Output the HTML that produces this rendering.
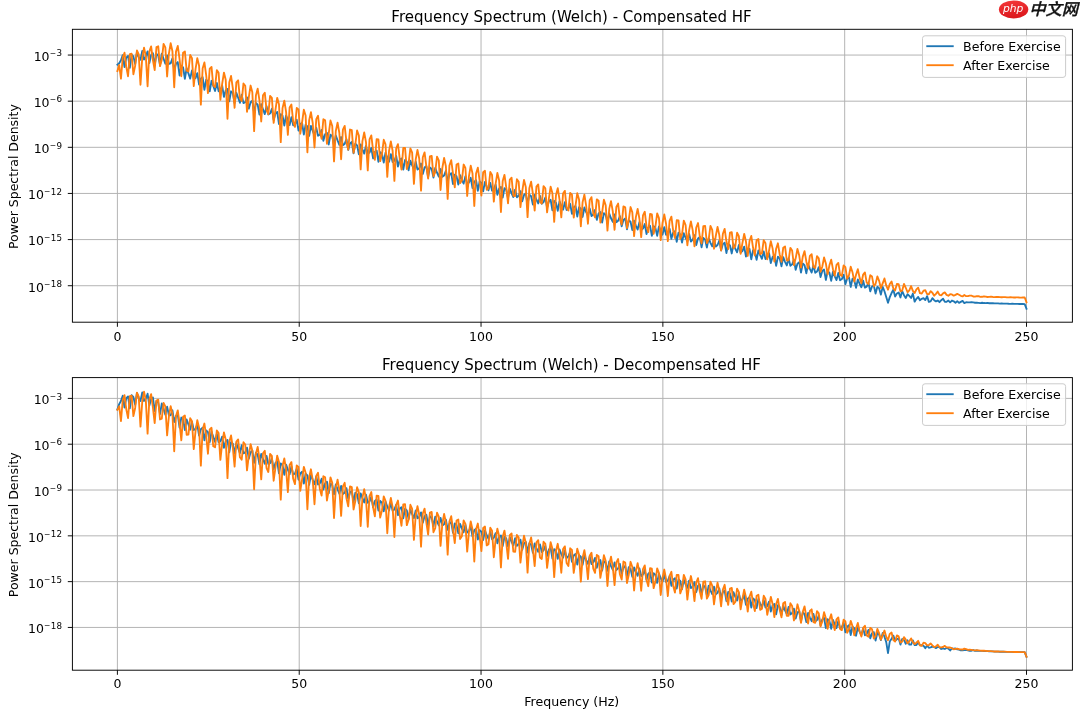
<!DOCTYPE html>
<html lang="en"><head><meta charset="utf-8"><title>Frequency Spectrum (Welch)</title>
<style>html,body{margin:0;padding:0;background:#fff}body{width:1080px;height:718px;overflow:hidden}svg{display:block;will-change:transform}</style>
</head><body>
<svg width="1080" height="718" viewBox="0 0 1080 718" font-family="'DejaVu Sans','Liberation Sans',sans-serif" fill="#000">
<rect width="1080" height="718" fill="#fff"/>
<clipPath id="c0"><rect x="72.4" y="29.3" width="1000.0" height="292.9"/></clipPath>
<path d="M117.40 29.30V322.20 M299.22 29.30V322.20 M481.04 29.30V322.20 M662.86 29.30V322.20 M844.68 29.30V322.20 M1026.50 29.30V322.20 M72.40 55.05H1072.40 M72.40 101.18H1072.40 M72.40 147.32H1072.40 M72.40 193.45H1072.40 M72.40 239.59H1072.40 M72.40 285.72H1072.40" stroke="#b0b0b0" stroke-width="0.95" fill="none"/>
<g clip-path="url(#c0)" fill="none" stroke-width="1.85" stroke-linejoin="round" stroke-linecap="square">
<polyline stroke="#1f77b4" points="117.40,64.74 119.18,63.26 120.95,60.32 122.73,55.08 124.50,67.00 126.28,57.61 128.05,55.87 129.83,67.88 131.60,54.67 133.38,56.36 135.16,64.12 136.93,52.15 138.71,57.30 140.48,59.69 142.26,50.99 144.03,59.60 145.81,56.47 147.58,51.33 149.36,63.04 151.14,54.83 152.91,53.13 154.69,65.66 156.46,53.83 158.24,55.53 160.01,64.90 161.79,53.61 163.57,58.75 165.34,63.73 167.12,55.38 168.89,63.99 170.67,63.37 172.44,58.34 174.22,70.02 175.99,63.70 177.77,62.10 179.55,75.50 181.32,65.75 183.10,67.51 184.87,78.74 186.65,68.23 188.42,73.33 190.20,78.62 191.97,70.47 193.75,78.93 195.53,78.10 197.30,73.18 199.08,84.69 200.85,78.62 202.63,77.04 204.40,89.85 206.18,79.73 207.95,81.42 209.73,91.31 211.51,80.79 213.28,85.86 215.06,90.97 216.83,82.90 218.61,91.30 220.38,90.48 222.16,85.60 223.94,96.93 225.71,90.50 227.49,88.91 229.26,101.42 231.04,91.30 232.81,93.02 234.59,103.10 236.36,92.73 238.14,97.77 239.92,102.78 241.69,94.77 243.47,103.11 245.24,102.28 247.02,97.43 248.79,108.65 250.57,102.29 252.34,100.71 254.12,113.00 255.90,102.94 257.67,104.65 259.45,114.51 261.22,104.23 263.00,109.24 264.77,114.10 266.55,106.16 268.32,114.44 270.10,113.54 271.88,108.72 273.65,119.83 275.43,113.49 277.20,111.92 278.98,124.04 280.75,114.07 282.53,115.77 284.31,125.47 286.08,115.31 287.86,120.29 289.63,125.04 291.41,117.17 293.18,125.38 294.96,124.43 296.73,119.65 298.51,130.64 300.29,124.30 302.06,122.75 303.84,134.67 305.61,124.78 307.39,126.47 309.16,135.96 310.94,125.88 312.71,130.83 314.49,135.40 316.27,127.58 318.04,135.73 319.82,134.63 321.59,129.88 323.37,140.73 325.14,134.32 326.92,132.77 328.69,144.48 330.47,134.61 332.25,136.29 334.02,145.53 335.80,135.52 337.57,140.43 339.35,144.81 341.12,137.04 342.90,145.12 344.68,143.91 346.45,139.17 348.23,149.90 350.00,143.47 351.78,141.93 353.55,153.44 355.33,143.64 357.10,145.30 358.88,154.36 360.66,144.42 362.43,149.31 364.21,153.54 365.98,145.82 367.76,153.84 369.53,152.55 371.31,147.84 373.08,158.45 374.86,152.01 376.64,150.48 378.41,161.82 380.19,152.08 381.96,153.74 383.74,162.62 385.51,152.77 387.29,157.62 389.06,161.73 390.84,154.07 392.62,162.02 394.39,160.66 396.17,155.98 397.94,166.48 399.72,160.03 401.49,158.50 403.27,169.67 405.04,159.99 406.82,161.64 408.60,170.35 410.37,160.57 412.15,165.39 413.92,169.37 415.70,161.76 417.47,169.65 419.25,168.22 421.03,163.57 422.80,173.95 424.58,167.52 426.35,166.00 428.13,177.01 429.90,167.41 431.68,169.05 433.45,177.61 435.23,167.93 437.01,172.72 438.78,176.61 440.56,169.06 442.33,176.90 444.11,175.45 445.88,170.82 447.66,181.11 449.43,174.72 451.21,173.21 452.99,184.10 454.76,174.60 456.54,176.23 458.31,184.67 460.09,175.07 461.86,179.84 463.64,183.65 465.41,176.15 467.19,183.93 468.97,182.43 470.74,177.83 472.52,188.01 474.29,181.63 476.07,180.12 477.84,190.86 479.62,181.42 481.40,183.04 483.17,191.38 484.95,181.86 486.72,186.61 488.50,190.39 490.27,182.93 492.05,190.68 493.82,189.19 495.60,184.61 497.38,194.75 499.15,188.40 500.93,186.91 502.70,197.60 504.48,188.19 506.25,189.81 508.03,198.09 509.80,188.58 511.58,193.32 513.36,197.02 515.13,189.57 516.91,197.30 518.68,195.76 520.46,191.19 522.23,201.29 524.01,194.92 525.78,193.42 527.56,204.07 529.34,194.66 531.11,196.28 532.89,204.52 534.66,195.02 536.44,199.75 538.21,203.43 539.99,195.99 541.77,203.71 543.54,202.15 545.32,197.58 547.09,207.66 548.87,201.28 550.64,199.78 552.42,210.40 554.19,200.99 555.97,202.61 557.75,210.80 559.52,201.32 561.30,206.04 563.07,209.69 564.85,202.26 566.62,209.96 568.40,208.38 570.17,203.82 571.95,213.88 573.73,207.49 575.50,205.99 577.28,216.57 579.05,207.18 580.83,208.79 582.60,216.94 584.38,207.47 586.15,212.18 587.93,215.79 589.71,208.37 591.48,216.05 593.26,214.45 595.03,209.89 596.81,219.92 598.58,213.53 600.36,212.03 602.13,222.58 603.91,213.20 605.69,214.82 607.46,222.97 609.24,213.52 611.01,218.24 612.79,221.91 614.56,214.51 616.34,222.20 618.12,220.74 619.89,216.19 621.67,226.26 623.44,220.06 625.22,218.58 626.99,229.25 628.77,220.07 630.54,221.70 632.32,230.10 634.10,220.78 635.87,225.51 637.65,229.51 639.42,222.17 641.20,229.88 642.97,228.59 644.75,224.05 646.52,234.01 648.30,227.33 650.08,225.80 651.85,235.94 653.63,226.28 655.40,227.86 657.18,235.78 658.95,226.32 660.73,231.02 662.50,234.59 664.28,227.21 666.06,234.87 667.83,233.32 669.61,228.78 671.38,238.79 673.16,232.60 674.93,231.13 676.71,241.82 678.49,232.77 680.26,234.40 682.04,242.63 683.81,233.25 685.59,237.94 687.36,241.31 689.14,233.91 690.91,241.51 692.69,239.67 694.47,235.12 696.24,245.02 698.02,238.50 699.79,237.00 701.57,247.36 703.34,237.99 705.12,239.59 706.89,247.57 708.67,238.16 710.45,242.85 712.22,246.39 714.00,239.03 715.77,246.65 717.55,245.02 719.32,240.48 721.10,250.42 722.87,244.09 724.65,242.61 726.43,253.04 728.20,243.78 729.98,245.38 731.75,253.45 733.53,244.09 735.30,248.78 737.08,252.38 738.86,245.04 740.63,252.67 742.41,251.14 744.18,246.62 745.96,256.56 747.73,250.31 749.51,248.83 751.28,259.28 753.06,250.08 754.84,251.69 756.61,259.79 758.39,250.47 760.16,255.16 761.94,258.81 763.71,251.49 765.49,259.12 767.26,257.65 769.04,253.14 770.82,263.08 772.59,256.89 774.37,255.42 776.14,265.86 777.92,256.71 779.69,258.32 781.47,266.41 783.24,257.13 785.02,261.81 786.80,265.47 788.57,258.17 790.35,265.78 792.12,264.35 793.90,259.85 795.67,269.77 797.45,263.65 799.23,262.18 801.00,272.63 802.78,263.55 804.55,265.17 806.33,273.31 808.10,264.10 809.88,268.77 811.65,272.54 813.43,265.28 815.21,272.88 816.98,271.57 818.76,267.11 820.53,276.98 822.31,271.03 824.08,269.58 825.86,279.95 827.63,271.08 829.41,272.68 831.19,280.78 832.96,271.77 834.74,276.39 836.51,280.06 838.29,272.95 840.06,280.36 841.84,279.11 843.61,274.75 845.39,284.20 847.17,278.59 848.94,277.19 850.72,286.95 852.49,278.68 854.27,280.23 856.04,287.74 857.82,279.36 859.59,283.77 861.37,287.25 863.15,280.64 864.92,287.67 866.70,286.63 868.47,282.71 870.25,291.43 872.02,286.47 873.80,285.50 875.58,293.61 877.35,286.84 879.13,288.17 880.90,294.64 882.68,286.85 884.45,291.25 886.23,297.08 888.00,302.78 889.78,297.12 891.56,293.05 893.33,289.81 895.11,296.50 896.88,293.45 898.66,292.43 900.43,297.46 902.21,291.11 903.98,295.20 905.76,298.06 907.54,294.18 909.31,295.83 911.09,298.01 912.86,293.58 914.64,301.68 916.41,298.85 918.19,297.01 919.96,300.18 921.74,298.83 923.52,298.07 925.29,300.07 927.07,296.10 928.84,301.89 930.62,301.38 932.39,298.17 934.17,300.16 935.95,301.41 937.72,300.55 939.50,302.18 941.27,300.19 943.05,298.69 944.82,301.71 946.60,301.85 948.37,300.55 950.15,302.39 951.93,300.55 953.70,301.29 955.48,302.82 957.25,301.13 959.03,302.85 960.80,301.85 962.58,300.89 964.35,303.12 966.13,302.21 967.91,302.43 969.68,302.36 971.46,302.18 973.23,302.45 975.01,302.74 976.78,302.67 978.56,302.82 980.33,303.14 982.11,302.74 983.89,303.04 985.66,303.19 987.44,302.93 989.21,303.27 990.99,303.27 992.76,303.14 994.54,303.44 996.32,303.37 998.09,303.35 999.87,303.58 1001.64,303.47 1003.42,303.55 1005.19,303.69 1006.97,303.60 1008.74,303.72 1010.52,303.80 1012.30,303.73 1014.07,303.87 1015.85,303.90 1017.62,303.88 1019.40,304.00 1021.17,304.00 1022.95,304.02 1024.72,304.12 1026.50,308.74"/>
<polyline stroke="#ff7f0e" points="117.40,71.04 119.18,65.05 120.95,78.73 122.73,57.58 124.50,52.73 126.28,66.92 128.05,76.28 129.83,54.11 131.60,53.66 133.38,74.21 135.16,65.87 136.93,50.50 138.71,54.43 140.48,84.71 142.26,57.67 144.03,47.68 145.81,56.21 147.58,86.24 149.36,51.66 151.14,46.39 152.91,60.05 154.69,70.12 156.46,47.16 158.24,46.31 160.01,66.19 161.79,59.80 163.57,43.87 165.34,47.40 167.12,76.50 168.89,53.64 170.67,43.19 172.44,51.28 174.22,87.32 175.99,51.62 177.77,45.93 179.55,59.09 181.32,76.25 183.10,52.65 184.87,51.39 186.65,70.69 188.42,71.47 190.20,55.04 191.97,58.15 193.75,86.18 195.53,69.03 197.30,58.11 199.08,65.76 200.85,104.67 202.63,68.58 204.40,62.47 206.18,75.12 207.95,93.07 209.73,68.58 211.51,66.92 213.28,85.57 215.06,87.10 216.83,70.08 218.61,72.78 220.38,99.78 222.16,83.95 223.94,72.56 225.71,79.77 227.49,118.79 229.26,82.52 231.04,75.97 232.81,88.13 234.59,107.80 236.36,82.42 238.14,80.35 239.92,98.37 241.69,101.08 243.47,83.46 245.24,85.75 247.02,111.77 248.79,97.42 250.57,85.54 252.34,92.31 254.12,131.13 255.90,95.59 257.67,88.61 259.45,100.28 261.22,121.51 263.00,95.18 264.77,92.70 266.55,110.11 268.32,114.18 270.10,95.96 271.88,97.84 273.65,122.94 275.43,110.19 277.20,97.81 278.98,104.16 280.75,142.17 282.53,108.10 284.31,100.69 286.08,111.87 287.86,134.82 289.63,107.47 291.41,104.58 293.18,121.39 294.96,126.88 296.73,108.03 298.51,109.50 300.29,133.73 302.06,122.51 303.84,109.64 305.61,115.56 307.39,152.33 309.16,120.09 310.94,112.24 312.71,122.94 314.49,147.55 316.27,119.10 318.04,115.79 319.82,132.03 321.59,138.78 323.37,119.28 325.14,120.35 326.92,143.75 328.69,133.89 330.47,120.51 332.25,126.00 334.02,161.36 335.80,131.03 337.57,122.73 339.35,132.97 341.12,159.28 342.90,129.66 344.68,125.94 346.45,141.61 348.23,149.68 350.00,129.51 351.78,130.17 353.55,152.79 355.33,144.35 357.10,130.45 358.88,135.52 360.66,169.44 362.43,141.15 364.21,132.40 365.98,142.17 367.76,170.35 369.53,139.48 371.31,135.35 373.08,150.47 374.86,159.92 376.64,139.07 378.41,139.32 380.19,161.17 381.96,154.18 383.74,139.75 385.51,144.40 387.29,176.92 389.06,150.65 390.84,141.45 392.62,150.77 394.39,180.89 396.17,148.70 397.94,144.15 399.72,158.73 401.49,169.59 403.27,148.01 405.04,147.86 406.82,168.98 408.60,163.39 410.37,148.43 412.15,152.67 413.92,183.86 415.70,159.54 417.47,149.88 419.25,158.74 421.03,190.61 422.80,157.31 424.58,152.34 426.35,166.38 428.13,178.65 429.90,156.39 431.68,155.83 433.45,176.20 435.23,172.09 437.01,156.61 438.78,160.43 440.56,189.97 442.33,168.00 444.11,157.89 445.88,166.29 447.66,198.84 449.43,165.58 451.21,160.20 452.99,173.70 454.76,187.36 456.54,164.50 458.31,163.54 460.09,183.17 461.86,180.54 463.64,164.55 465.41,167.95 467.19,195.99 468.97,176.18 470.74,165.62 472.52,173.57 474.29,205.95 476.07,173.50 477.84,167.71 479.62,180.67 481.40,195.59 483.17,172.19 484.95,170.82 486.72,189.72 488.50,188.52 490.27,172.03 492.05,175.02 493.82,201.68 495.60,183.94 497.38,172.93 499.15,180.43 500.93,211.96 502.70,181.05 504.48,174.84 506.25,187.28 508.03,203.34 509.80,179.53 511.58,177.75 513.36,195.94 515.13,196.13 516.91,179.17 518.68,181.74 520.46,207.10 522.23,191.33 524.01,179.88 525.78,186.93 527.56,217.12 529.34,188.25 531.11,181.62 532.89,193.54 534.66,210.60 536.44,186.57 538.21,184.39 539.99,201.89 541.77,203.47 543.54,186.07 545.32,188.24 547.09,212.36 548.87,198.53 550.64,186.65 552.42,193.26 554.19,221.85 555.97,195.29 557.75,188.25 559.52,199.64 561.30,217.44 563.07,193.45 564.85,190.87 566.62,207.67 568.40,210.57 570.17,192.81 571.95,194.56 573.73,217.51 575.50,205.54 577.28,193.25 579.05,199.41 580.83,226.31 582.60,202.15 584.38,194.70 586.15,205.58 587.93,223.78 589.71,200.15 591.48,197.17 593.26,213.28 595.03,217.39 596.81,199.35 598.58,200.70 600.36,222.50 602.13,212.34 603.91,199.67 605.69,205.39 607.46,230.62 609.24,208.91 611.01,201.07 612.79,211.43 614.56,229.80 616.34,206.96 618.12,203.59 619.89,219.02 621.67,224.51 623.44,206.37 625.22,207.32 626.99,228.05 628.77,220.04 630.54,207.05 632.32,212.33 634.10,236.12 635.87,217.12 637.65,208.91 639.42,218.76 641.20,237.11 642.97,215.47 644.75,211.72 646.52,226.43 648.30,232.11 650.08,213.86 651.85,214.39 653.63,233.82 655.40,226.63 657.18,213.34 658.95,218.18 660.73,240.08 662.50,223.00 664.28,214.44 666.06,223.75 667.83,241.12 669.61,220.82 671.38,216.69 673.16,230.72 674.93,237.97 676.71,220.23 678.49,220.37 680.26,238.95 682.04,234.07 683.81,220.62 685.59,225.02 687.36,245.29 689.14,230.20 690.91,221.32 692.69,230.09 694.47,246.34 696.24,227.49 698.02,223.00 699.79,236.29 701.57,243.45 703.34,226.08 705.12,225.83 706.89,243.17 708.67,239.41 710.45,225.90 712.22,229.86 714.00,248.72 715.77,236.00 717.55,226.87 719.32,235.13 721.10,250.60 722.87,233.76 724.65,228.94 726.43,241.53 728.20,249.19 729.98,232.70 731.75,232.08 733.53,248.38 735.30,246.14 737.08,232.75 738.86,236.27 740.63,253.74 742.41,243.14 744.18,233.83 745.96,241.55 747.73,255.96 749.51,241.06 751.28,235.94 753.06,247.79 754.84,255.47 756.61,240.06 758.39,239.07 760.16,254.28 761.94,253.22 763.71,240.13 765.49,243.23 767.26,259.28 769.04,250.63 770.82,241.23 772.59,248.40 774.37,261.65 776.14,248.69 777.92,243.32 779.69,254.41 781.47,261.86 783.24,247.74 785.02,246.40 786.80,260.50 788.57,260.40 790.35,247.83 792.12,250.49 793.90,265.17 795.67,258.31 797.45,248.95 799.23,255.56 801.00,267.67 802.78,256.65 804.55,251.09 806.33,261.41 808.10,268.51 809.88,255.89 811.65,254.24 813.43,267.25 815.21,267.94 816.98,256.14 818.76,258.38 820.53,271.73 822.31,266.55 824.08,257.40 825.86,263.44 827.63,274.36 829.41,265.31 831.19,259.66 832.96,269.15 834.74,275.71 836.51,264.83 838.29,262.92 840.06,274.70 841.84,275.95 843.61,265.32 845.39,267.14 847.17,278.91 848.94,275.37 850.72,266.78 852.49,272.19 854.27,281.59 856.04,274.71 857.82,269.19 859.59,277.65 861.37,283.26 863.15,274.55 864.92,272.43 866.70,282.60 868.47,284.14 870.25,275.22 872.02,276.59 873.80,286.20 875.58,283.86 877.35,276.34 879.13,280.88 880.90,288.10 882.68,283.40 884.45,278.45 886.23,285.48 888.00,289.67 889.78,284.05 891.56,281.46 893.33,288.53 895.11,290.50 896.88,284.03 898.66,284.23 900.43,291.40 902.21,290.60 903.98,283.92 905.76,287.77 907.54,292.27 909.31,290.45 911.09,286.01 912.86,290.93 914.64,293.01 916.41,289.34 918.19,287.69 919.96,293.12 921.74,293.48 923.52,290.74 925.29,290.23 927.07,294.02 928.84,294.22 930.62,291.14 932.39,292.75 934.17,295.67 935.95,293.80 937.72,291.57 939.50,294.88 941.27,295.39 943.05,293.39 944.82,292.41 946.60,294.83 948.37,295.75 950.15,294.26 951.93,294.42 953.70,295.65 955.48,294.87 957.25,293.90 959.03,294.74 960.80,295.79 962.58,296.40 964.35,295.03 966.13,296.16 967.91,296.19 969.68,295.67 971.46,295.70 973.23,296.51 975.01,296.59 976.78,296.17 978.56,296.21 980.33,296.81 982.11,296.78 983.89,296.33 985.66,296.64 987.44,296.97 989.21,296.90 990.99,296.59 992.76,296.96 994.54,297.12 996.32,297.00 998.09,296.86 999.87,297.18 1001.64,297.25 1003.42,297.10 1005.19,297.12 1006.97,297.34 1008.74,297.36 1010.52,297.23 1012.30,297.33 1014.07,297.46 1015.85,297.45 1017.62,297.37 1019.40,297.50 1021.17,297.56 1022.95,297.54 1024.72,297.51 1026.50,302.25"/>
</g>
<path d="M117.40 322.20v4.60 M299.22 322.20v4.60 M481.04 322.20v4.60 M662.86 322.20v4.60 M844.68 322.20v4.60 M1026.50 322.20v4.60 M72.40 55.05h-4.60 M72.40 101.18h-4.60 M72.40 147.32h-4.60 M72.40 193.45h-4.60 M72.40 239.59h-4.60 M72.40 285.72h-4.60" stroke="#000" stroke-width="0.95" fill="none"/>
<rect x="72.40" y="29.30" width="1000.00" height="292.90" fill="none" stroke="#000" stroke-width="0.95"/>
<text x="117.40" y="340.80" font-size="12.5" text-anchor="middle">0</text>
<text x="299.22" y="340.80" font-size="12.5" text-anchor="middle">50</text>
<text x="481.04" y="340.80" font-size="12.5" text-anchor="middle">100</text>
<text x="662.86" y="340.80" font-size="12.5" text-anchor="middle">150</text>
<text x="844.68" y="340.80" font-size="12.5" text-anchor="middle">200</text>
<text x="1026.50" y="340.80" font-size="12.5" text-anchor="middle">250</text>
<text x="62.00" y="60.95" font-size="12.5" text-anchor="end">10<tspan font-size="7.6" dy="-5.1" dx="0.1">−</tspan><tspan font-size="8.75" dy="0.45" dx="0.4">3</tspan></text>
<text x="62.00" y="107.08" font-size="12.5" text-anchor="end">10<tspan font-size="7.6" dy="-5.1" dx="0.1">−</tspan><tspan font-size="8.75" dy="0.45" dx="0.4">6</tspan></text>
<text x="62.00" y="153.22" font-size="12.5" text-anchor="end">10<tspan font-size="7.6" dy="-5.1" dx="0.1">−</tspan><tspan font-size="8.75" dy="0.45" dx="0.4">9</tspan></text>
<text x="62.00" y="199.35" font-size="12.5" text-anchor="end">10<tspan font-size="7.6" dy="-5.1" dx="0.1">−</tspan><tspan font-size="8.75" dy="0.45" dx="0.4">12</tspan></text>
<text x="62.00" y="245.49" font-size="12.5" text-anchor="end">10<tspan font-size="7.6" dy="-5.1" dx="0.1">−</tspan><tspan font-size="8.75" dy="0.45" dx="0.4">15</tspan></text>
<text x="62.00" y="291.62" font-size="12.5" text-anchor="end">10<tspan font-size="7.6" dy="-5.1" dx="0.1">−</tspan><tspan font-size="8.75" dy="0.45" dx="0.4">18</tspan></text>
<text x="571.50" y="21.90" font-size="15" text-anchor="middle">Frequency Spectrum (Welch) - Compensated HF</text>
<text transform="translate(18.20 176.55) rotate(-90)" font-size="12.5" text-anchor="middle">Power Spectral Density</text>
<rect x="922.50" y="35.80" width="143.10" height="41.60" rx="2.6" ry="2.6" fill="#fff" fill-opacity="0.8" stroke="#ccc" stroke-width="1"/>
<path d="M926.30 46.20h27.4" stroke="#1f77b4" stroke-width="1.85" fill="none"/>
<text x="963.10" y="50.70" font-size="12.6">Before Exercise</text>
<path d="M926.30 65.20h27.4" stroke="#ff7f0e" stroke-width="1.85" fill="none"/>
<text x="963.10" y="69.70" font-size="12.6">After Exercise</text>
<clipPath id="c1"><rect x="72.4" y="377.6" width="1000.0" height="292.6"/></clipPath>
<path d="M117.40 377.60V670.20 M299.22 377.60V670.20 M481.04 377.60V670.20 M662.86 377.60V670.20 M844.68 377.60V670.20 M1026.50 377.60V670.20 M72.40 398.40H1072.40 M72.40 444.21H1072.40 M72.40 490.02H1072.40 M72.40 535.83H1072.40 M72.40 581.64H1072.40 M72.40 627.45H1072.40" stroke="#b0b0b0" stroke-width="0.95" fill="none"/>
<g clip-path="url(#c1)" fill="none" stroke-width="1.85" stroke-linejoin="round" stroke-linecap="square">
<polyline stroke="#1f77b4" points="117.40,409.39 119.18,404.16 120.95,400.94 122.73,395.74 124.50,407.54 126.28,398.12 128.05,396.39 129.83,408.36 131.60,395.28 133.38,396.96 135.16,404.87 136.93,393.00 138.71,398.12 140.48,400.95 142.26,392.35 144.03,400.94 145.81,398.82 147.58,393.73 149.36,405.60 151.14,399.02 152.91,397.39 154.69,411.04 156.46,400.87 158.24,402.62 160.01,414.17 161.79,403.50 163.57,408.65 165.34,414.84 167.12,406.62 168.89,415.19 170.67,415.23 172.44,410.28 174.22,421.97 175.99,416.02 177.77,414.42 179.55,427.55 181.32,417.55 183.10,419.28 184.87,429.98 186.65,419.49 188.42,424.55 190.20,429.74 191.97,421.64 193.75,430.04 195.53,429.15 197.30,424.26 199.08,435.64 200.85,429.30 202.63,427.72 204.40,440.40 206.18,430.35 207.95,432.06 209.73,442.14 211.51,431.73 213.28,436.76 215.06,441.86 216.83,433.84 218.61,442.19 220.38,441.43 222.16,436.58 223.94,447.84 225.71,441.51 227.49,439.94 229.26,452.24 231.04,442.06 232.81,443.76 234.59,453.60 236.36,443.26 238.14,448.26 239.92,453.06 241.69,445.10 243.47,453.37 245.24,452.40 247.02,447.58 248.79,458.70 250.57,452.27 252.34,450.70 254.12,462.85 255.90,452.80 257.67,454.49 259.45,464.21 261.22,453.99 263.00,458.97 264.77,463.73 266.55,455.84 268.32,464.05 270.10,463.10 271.88,458.31 273.65,469.33 275.43,462.98 277.20,461.43 278.98,473.43 280.75,463.50 282.53,465.19 284.31,474.77 286.08,464.66 287.86,469.60 289.63,474.26 291.41,466.43 293.18,474.58 294.96,473.57 296.73,468.81 298.51,479.71 300.29,473.36 302.06,471.82 303.84,483.63 305.61,473.77 307.39,475.45 309.16,484.83 310.94,474.81 312.71,479.72 314.49,484.23 316.27,476.47 318.04,484.56 319.82,483.47 321.59,478.74 323.37,489.52 325.14,483.17 326.92,481.64 328.69,493.27 330.47,483.49 332.25,485.16 334.02,494.36 335.80,484.42 337.57,489.31 339.35,493.68 341.12,485.97 342.90,493.99 344.68,492.81 346.45,488.11 348.23,498.77 350.00,492.40 351.78,490.87 353.55,502.31 355.33,492.58 357.10,494.24 358.88,503.24 360.66,493.37 362.43,498.23 364.21,502.43 365.98,494.77 367.76,502.74 369.53,501.45 371.31,496.78 373.08,507.31 374.86,500.91 376.64,499.39 378.41,510.64 380.19,500.96 381.96,502.61 383.74,511.41 385.51,501.63 387.29,506.45 389.06,510.51 390.84,502.90 392.62,510.80 394.39,509.44 396.17,504.79 397.94,515.21 399.72,508.81 401.49,507.29 403.27,518.39 405.04,508.78 406.82,510.42 408.60,519.06 410.37,509.36 412.15,514.15 413.92,518.11 415.70,510.55 417.47,518.39 419.25,516.97 421.03,512.36 422.80,522.67 424.58,516.28 426.35,514.77 428.13,525.71 429.90,516.18 431.68,517.81 433.45,526.31 435.23,516.69 437.01,521.46 438.78,525.32 440.56,517.83 442.33,525.61 444.11,524.17 445.88,519.58 447.66,529.80 449.43,523.46 451.21,521.95 452.99,532.77 454.76,523.33 456.54,524.95 458.31,533.34 460.09,523.80 461.86,528.54 463.64,532.32 465.41,524.87 467.19,532.59 468.97,531.10 470.74,526.53 472.52,536.64 474.29,530.30 476.07,528.81 477.84,539.47 479.62,530.10 481.40,531.71 483.17,539.97 484.95,530.51 486.72,535.22 488.50,538.94 490.27,531.54 492.05,539.23 493.82,537.74 495.60,533.19 497.38,543.26 499.15,536.95 500.93,535.46 502.70,546.07 504.48,536.73 506.25,538.34 508.03,546.56 509.80,537.12 511.58,541.82 513.36,545.51 515.13,538.11 516.91,545.78 518.68,544.25 520.46,539.70 522.23,549.74 524.01,543.40 525.78,541.91 527.56,552.47 529.34,543.12 531.11,544.73 532.89,552.88 534.66,543.44 536.44,548.13 538.21,551.75 539.99,544.36 541.77,552.01 543.54,550.42 545.32,545.88 547.09,555.88 548.87,549.50 550.64,548.01 552.42,558.52 554.19,549.15 555.97,550.76 557.75,558.86 559.52,549.43 561.30,554.11 563.07,557.71 564.85,550.32 566.62,557.97 568.40,556.39 570.17,551.85 571.95,561.84 573.73,555.49 575.50,554.00 577.28,564.50 579.05,555.17 580.83,556.78 582.60,564.87 584.38,555.47 586.15,560.15 587.93,563.74 589.71,556.37 591.48,564.00 593.26,562.41 595.03,557.88 596.81,567.85 598.58,561.50 600.36,560.01 602.13,570.48 603.91,561.17 605.69,562.77 607.46,570.84 609.24,561.45 611.01,566.13 612.79,569.72 614.56,562.36 616.34,569.98 618.12,568.42 619.89,563.89 621.67,573.84 623.44,567.53 625.22,566.05 626.99,576.50 628.77,567.22 630.54,568.82 632.32,576.89 634.10,567.52 635.87,572.20 637.65,575.78 639.42,568.44 641.20,576.05 642.97,574.49 644.75,569.98 646.52,579.91 648.30,573.61 650.08,572.12 651.85,582.55 653.63,573.29 655.40,574.89 657.18,582.93 658.95,573.58 660.73,578.25 662.50,581.82 664.28,574.49 666.06,582.09 667.83,580.53 669.61,576.02 671.38,585.93 673.16,579.65 674.93,578.17 676.71,588.58 678.49,579.34 680.26,580.94 682.04,588.98 683.81,579.65 685.59,584.31 687.36,587.89 689.14,580.57 690.91,588.16 692.69,586.61 694.47,582.10 696.24,592.00 698.02,585.74 699.79,584.26 701.57,594.66 703.34,585.45 705.12,587.05 706.89,595.09 708.67,585.79 710.45,590.45 712.22,594.06 714.00,586.76 715.77,594.34 717.55,592.85 719.32,588.36 721.10,598.25 722.87,592.06 724.65,590.59 726.43,601.00 728.20,591.85 729.98,593.45 731.75,601.52 733.53,592.25 735.30,596.91 737.08,600.55 738.86,593.26 740.63,600.84 742.41,599.37 744.18,594.89 745.96,604.77 747.73,598.61 749.51,597.14 751.28,607.54 753.06,598.43 754.84,600.03 756.61,608.10 758.39,598.87 760.16,603.53 761.94,607.20 763.71,599.94 765.49,607.51 767.26,606.10 769.04,601.63 770.82,611.50 772.59,605.41 774.37,603.94 776.14,614.34 777.92,605.29 779.69,606.89 781.47,614.98 783.24,605.79 785.02,610.44 786.80,614.14 788.57,606.90 790.35,614.47 792.12,613.10 793.90,608.64 795.67,618.49 797.45,612.45 799.23,611.00 801.00,621.36 802.78,612.39 804.55,613.98 806.33,622.05 808.10,612.94 809.88,617.56 811.65,621.17 813.43,613.97 815.21,621.47 816.98,620.07 818.76,615.63 820.53,625.37 822.31,619.38 824.08,617.93 825.86,628.13 827.63,619.28 829.41,620.87 831.19,628.79 832.96,619.83 834.74,624.41 836.51,628.06 838.29,621.01 840.06,628.40 841.84,627.16 843.61,622.82 845.39,632.31 847.17,626.66 848.94,625.25 850.72,635.03 852.49,626.69 854.27,628.23 856.04,635.71 857.82,627.27 859.59,631.66 861.37,635.02 863.15,628.37 864.92,635.29 866.70,634.05 868.47,629.88 870.25,638.42 872.02,633.29 873.80,632.12 875.58,640.51 877.35,633.02 879.13,634.65 880.90,640.09 882.68,632.90 884.45,636.71 886.23,642.13 888.00,653.02 889.78,641.41 891.56,638.78 893.33,635.67 895.11,640.85 896.88,639.26 898.66,638.17 900.43,644.61 902.21,638.98 903.98,639.97 905.76,643.78 907.54,640.28 909.31,644.53 911.09,644.56 912.86,640.40 914.64,645.12 916.41,645.00 918.19,642.29 919.96,645.41 921.74,645.09 923.52,645.76 925.29,648.15 927.07,645.55 928.84,647.72 930.62,647.38 932.39,646.70 934.17,647.01 935.95,648.13 937.72,647.07 939.50,647.05 941.27,649.01 943.05,648.28 944.82,649.01 946.60,647.96 948.37,648.52 950.15,650.50 951.93,648.40 953.70,648.78 955.48,648.49 957.25,649.38 959.03,649.66 960.80,650.40 962.58,650.37 964.35,650.18 966.13,649.87 967.91,650.37 969.68,650.75 971.46,650.73 973.23,650.04 975.01,650.88 976.78,650.49 978.56,650.80 980.33,650.94 982.11,650.80 983.89,651.01 985.66,651.17 987.44,651.10 989.21,651.35 990.99,651.42 992.76,651.43 994.54,651.63 996.32,651.61 998.09,651.62 999.87,651.74 1001.64,651.71 1003.42,651.76 1005.19,651.84 1006.97,651.82 1008.74,651.89 1010.52,651.94 1012.30,651.93 1014.07,652.01 1015.85,652.04 1017.62,652.05 1019.40,652.11 1021.17,652.13 1022.95,652.16 1024.72,652.18 1026.50,656.76"/>
<polyline stroke="#ff7f0e" points="117.40,409.85 119.18,406.34 120.95,421.15 122.73,400.06 124.50,395.24 126.28,409.33 128.05,418.17 129.83,396.15 131.60,395.71 133.38,416.11 135.16,407.93 136.93,392.66 138.71,396.57 140.48,426.65 142.26,401.56 144.03,391.65 145.81,400.12 147.58,433.67 149.36,399.40 151.14,394.17 152.91,407.75 154.69,423.12 156.46,400.48 158.24,399.63 160.01,419.45 161.79,418.67 163.57,402.91 165.34,406.41 167.12,435.33 168.89,416.49 170.67,406.12 172.44,414.15 174.22,451.29 175.99,415.99 177.77,410.34 179.55,423.41 181.32,440.29 183.10,416.85 184.87,415.60 186.65,434.76 188.42,434.55 190.20,418.22 191.97,421.31 193.75,449.13 195.53,431.04 197.30,420.19 199.08,427.79 200.85,465.69 202.63,429.60 204.40,423.53 206.18,436.10 207.95,453.75 209.73,429.43 211.51,427.78 213.28,446.29 215.06,447.32 216.83,430.41 218.61,433.09 220.38,459.89 222.16,443.73 223.94,432.41 225.71,439.57 227.49,478.10 229.26,441.91 231.04,435.41 232.81,447.48 234.59,466.69 236.36,441.48 238.14,439.42 239.92,457.31 241.69,459.73 243.47,442.23 245.24,444.50 247.02,470.34 248.79,455.86 250.57,444.06 252.34,450.78 254.12,489.27 255.90,453.85 257.67,446.92 259.45,458.51 261.22,479.44 263.00,453.28 264.77,450.82 266.55,468.11 268.32,472.03 270.10,453.93 271.88,455.80 273.65,480.73 275.43,467.94 277.20,455.65 278.98,461.95 280.75,499.67 282.53,465.74 284.31,458.38 286.08,469.49 287.86,492.14 289.63,464.97 291.41,462.10 293.18,478.80 294.96,484.11 296.73,465.38 298.51,466.85 300.29,490.91 302.06,479.63 303.84,466.85 305.61,472.72 307.39,509.23 309.16,477.11 310.94,469.31 312.71,479.94 314.49,504.30 316.27,476.04 318.04,472.76 319.82,488.89 321.59,495.56 323.37,476.19 325.14,477.25 326.92,500.49 328.69,490.70 330.47,477.41 332.25,482.86 334.02,517.97 335.80,487.86 337.57,479.62 339.35,489.79 341.12,515.91 342.90,486.50 344.68,482.81 346.45,498.37 348.23,506.37 350.00,486.35 351.78,487.00 353.55,509.45 355.33,501.06 357.10,487.26 358.88,492.30 360.66,525.98 362.43,497.86 364.21,489.17 365.98,498.87 367.76,526.81 369.53,496.16 371.31,492.06 373.08,507.07 374.86,516.41 376.64,495.70 378.41,495.95 380.19,517.64 381.96,510.64 383.74,496.31 385.51,500.93 387.29,533.22 389.06,507.07 390.84,497.94 392.62,507.19 394.39,537.05 396.17,505.08 397.94,500.57 399.72,515.04 401.49,525.79 403.27,504.37 405.04,504.21 406.82,525.19 408.60,519.61 410.37,504.75 412.15,508.96 413.92,539.94 415.70,515.75 417.47,506.17 419.25,514.96 421.03,546.58 422.80,513.51 424.58,508.58 426.35,522.52 428.13,534.67 429.90,512.56 431.68,512.00 433.45,532.23 435.23,528.12 437.01,512.75 438.78,516.53 440.56,545.87 442.33,524.02 444.11,513.98 445.88,522.32 447.66,554.61 449.43,521.58 451.21,516.24 452.99,529.64 454.76,543.18 456.54,520.47 458.31,519.51 460.09,539.00 461.86,536.35 463.64,520.47 465.41,523.85 467.19,551.69 468.97,531.98 470.74,521.50 472.52,529.39 474.29,561.51 476.07,529.28 477.84,523.53 479.62,536.40 481.40,551.18 483.17,527.95 484.95,526.59 486.72,545.36 488.50,544.15 490.27,527.78 492.05,530.74 493.82,557.21 495.60,539.60 497.38,528.68 499.15,536.12 500.93,567.44 502.70,536.76 504.48,530.59 506.25,542.94 508.03,558.91 509.80,535.27 511.58,533.51 513.36,551.58 515.13,551.79 516.91,534.94 518.68,537.50 520.46,562.68 522.23,547.03 524.01,535.66 525.78,542.66 527.56,572.64 529.34,543.97 531.11,537.39 532.89,549.22 534.66,566.14 536.44,542.27 538.21,540.11 539.99,557.48 541.77,559.01 543.54,541.73 545.32,543.88 547.09,567.83 548.87,554.05 550.64,542.25 552.42,548.81 554.19,577.18 555.97,550.79 557.75,543.79 559.52,555.11 561.30,572.76 563.07,548.93 564.85,546.37 566.62,563.05 568.40,565.93 570.17,548.29 571.95,550.03 573.73,572.82 575.50,560.95 577.28,548.75 579.05,554.87 580.83,581.59 582.60,557.62 584.38,550.22 586.15,561.02 587.93,579.12 589.71,555.66 591.48,552.71 593.26,568.70 595.03,572.81 596.81,554.91 598.58,556.25 600.36,577.89 602.13,567.82 603.91,555.24 605.69,560.92 607.46,585.97 609.24,564.39 611.01,556.61 612.79,566.90 614.56,585.06 616.34,562.35 618.12,559.01 619.89,574.32 621.67,579.56 623.44,561.53 625.22,562.46 626.99,583.01 628.77,574.71 630.54,561.80 632.32,567.04 634.10,590.46 635.87,571.25 637.65,563.09 639.42,572.86 641.20,590.73 642.97,569.13 644.75,565.40 646.52,580.02 648.30,586.19 650.08,568.20 651.85,568.74 653.63,588.18 655.40,581.54 657.18,568.36 658.95,573.17 660.73,594.98 662.50,578.05 664.28,569.55 666.06,578.80 667.83,596.04 669.61,575.85 671.38,571.75 673.16,585.67 674.93,592.56 676.71,574.85 678.49,574.99 680.26,593.34 682.04,588.28 683.81,574.93 685.59,579.30 687.36,599.56 689.14,584.85 690.91,576.04 692.69,584.76 694.47,601.15 696.24,582.61 698.02,578.15 699.79,591.37 701.57,598.73 703.34,581.55 705.12,581.30 706.89,598.56 708.67,594.99 710.45,581.59 712.22,585.52 714.00,604.30 715.77,591.74 717.55,582.68 719.32,590.88 721.10,606.28 722.87,589.58 724.65,584.80 726.43,597.29 728.20,604.92 729.98,588.55 731.75,587.93 733.53,604.11 735.30,601.89 737.08,588.59 738.86,592.09 740.63,609.42 742.41,598.89 744.18,589.64 745.96,597.30 747.73,611.59 749.51,596.78 751.28,591.69 753.06,603.45 754.84,611.05 756.61,595.74 758.39,594.76 760.16,609.85 761.94,608.78 763.71,595.78 765.49,598.85 767.26,614.78 769.04,606.17 770.82,596.83 772.59,603.95 774.37,617.09 776.14,604.21 777.92,598.88 779.69,609.88 781.47,617.26 783.24,603.24 785.02,601.91 786.80,615.90 788.57,615.76 790.35,603.28 792.12,605.92 793.90,620.45 795.67,613.61 797.45,604.31 799.23,610.87 801.00,622.80 802.78,611.85 804.55,606.33 806.33,616.54 808.10,623.49 809.88,610.96 811.65,609.32 813.43,622.16 815.21,622.77 816.98,611.07 818.76,613.29 820.53,626.41 822.31,621.24 824.08,612.18 825.86,618.16 827.63,628.83 829.41,619.87 831.19,614.28 832.96,623.65 834.74,630.02 836.51,619.26 838.29,617.36 840.06,628.96 841.84,630.12 843.61,619.57 845.39,621.37 847.17,632.93 848.94,629.34 850.72,620.82 852.49,626.15 854.27,635.26 856.04,628.40 857.82,622.92 859.59,631.22 861.37,636.51 863.15,627.85 864.92,625.78 866.70,635.59 868.47,636.78 870.25,627.85 872.02,629.13 873.80,638.48 875.58,636.27 877.35,628.87 879.13,633.13 880.90,639.74 882.68,634.90 884.45,630.56 886.23,636.72 888.00,640.27 889.78,633.86 891.56,632.50 893.33,640.03 895.11,641.58 896.88,635.41 898.66,636.40 900.43,642.52 902.21,641.74 903.98,637.10 905.76,639.62 907.54,643.41 909.31,641.32 911.09,638.41 912.86,642.17 914.64,644.13 916.41,642.72 918.19,640.81 919.96,645.36 921.74,645.84 923.52,642.58 925.29,643.16 927.07,645.44 928.84,645.04 930.62,643.47 932.39,645.35 934.17,647.06 935.95,646.44 937.72,644.68 939.50,647.22 941.27,647.42 943.05,647.00 944.82,645.83 946.60,647.36 948.37,647.53 950.15,647.50 951.93,648.15 953.70,649.36 955.48,648.91 957.25,648.57 959.03,649.21 960.80,649.44 962.58,649.54 964.35,648.71 966.13,649.15 967.91,649.93 969.68,649.70 971.46,649.86 973.23,650.17 975.01,650.42 976.78,650.27 978.56,650.39 980.33,650.62 982.11,650.78 983.89,650.64 985.66,650.87 987.44,651.11 989.21,651.17 990.99,651.12 992.76,651.37 994.54,651.50 996.32,651.48 998.09,651.46 999.87,651.62 1001.64,651.67 1003.42,651.65 1005.19,651.69 1006.97,651.80 1008.74,651.84 1010.52,651.83 1012.30,651.89 1014.07,651.97 1015.85,652.00 1017.62,652.00 1019.40,652.07 1021.17,652.13 1022.95,652.15 1024.72,652.14 1026.50,656.76"/>
</g>
<path d="M117.40 670.20v4.60 M299.22 670.20v4.60 M481.04 670.20v4.60 M662.86 670.20v4.60 M844.68 670.20v4.60 M1026.50 670.20v4.60 M72.40 398.40h-4.60 M72.40 444.21h-4.60 M72.40 490.02h-4.60 M72.40 535.83h-4.60 M72.40 581.64h-4.60 M72.40 627.45h-4.60" stroke="#000" stroke-width="0.95" fill="none"/>
<rect x="72.40" y="377.60" width="1000.00" height="292.60" fill="none" stroke="#000" stroke-width="0.95"/>
<text x="117.40" y="688.20" font-size="12.5" text-anchor="middle">0</text>
<text x="299.22" y="688.20" font-size="12.5" text-anchor="middle">50</text>
<text x="481.04" y="688.20" font-size="12.5" text-anchor="middle">100</text>
<text x="662.86" y="688.20" font-size="12.5" text-anchor="middle">150</text>
<text x="844.68" y="688.20" font-size="12.5" text-anchor="middle">200</text>
<text x="1026.50" y="688.20" font-size="12.5" text-anchor="middle">250</text>
<text x="62.00" y="404.30" font-size="12.5" text-anchor="end">10<tspan font-size="7.6" dy="-5.1" dx="0.1">−</tspan><tspan font-size="8.75" dy="0.45" dx="0.4">3</tspan></text>
<text x="62.00" y="450.11" font-size="12.5" text-anchor="end">10<tspan font-size="7.6" dy="-5.1" dx="0.1">−</tspan><tspan font-size="8.75" dy="0.45" dx="0.4">6</tspan></text>
<text x="62.00" y="495.92" font-size="12.5" text-anchor="end">10<tspan font-size="7.6" dy="-5.1" dx="0.1">−</tspan><tspan font-size="8.75" dy="0.45" dx="0.4">9</tspan></text>
<text x="62.00" y="541.73" font-size="12.5" text-anchor="end">10<tspan font-size="7.6" dy="-5.1" dx="0.1">−</tspan><tspan font-size="8.75" dy="0.45" dx="0.4">12</tspan></text>
<text x="62.00" y="587.54" font-size="12.5" text-anchor="end">10<tspan font-size="7.6" dy="-5.1" dx="0.1">−</tspan><tspan font-size="8.75" dy="0.45" dx="0.4">15</tspan></text>
<text x="62.00" y="633.35" font-size="12.5" text-anchor="end">10<tspan font-size="7.6" dy="-5.1" dx="0.1">−</tspan><tspan font-size="8.75" dy="0.45" dx="0.4">18</tspan></text>
<text x="571.50" y="370.20" font-size="15" text-anchor="middle">Frequency Spectrum (Welch) - Decompensated HF</text>
<text transform="translate(18.20 524.70) rotate(-90)" font-size="12.5" text-anchor="middle">Power Spectral Density</text>
<text x="571.80" y="705.95" font-size="12.6" text-anchor="middle">Frequency (Hz)</text>
<rect x="922.50" y="383.80" width="143.10" height="41.60" rx="2.6" ry="2.6" fill="#fff" fill-opacity="0.8" stroke="#ccc" stroke-width="1"/>
<path d="M926.30 394.20h27.4" stroke="#1f77b4" stroke-width="1.85" fill="none"/>
<text x="963.10" y="398.70" font-size="12.6">Before Exercise</text>
<path d="M926.30 413.20h27.4" stroke="#ff7f0e" stroke-width="1.85" fill="none"/>
<text x="963.10" y="417.70" font-size="12.6">After Exercise</text>
<g>
<linearGradient id="pg" x1="0" y1="0" x2="0.25" y2="1"><stop offset="0" stop-color="#f5393b"/><stop offset="1" stop-color="#dc181d"/></linearGradient>
<ellipse cx="1013.6" cy="9.4" rx="14.7" ry="9.0" fill="url(#pg)"/>
<text x="1003.0" y="11.5" font-size="10.2" font-style="italic" fill="#fff" textLength="20.4" lengthAdjust="spacingAndGlyphs" font-family="'DejaVu Sans','Liberation Sans',sans-serif">php</text>
<text x="0" y="0" font-size="16.3" font-weight="500" fill="#111" stroke="#111" stroke-width="0.35" transform="translate(1029.2 15.1) skewX(-14)" font-family="'Liberation Sans','Noto Sans CJK SC',sans-serif">中文网</text>
</g>
</svg>
</body></html>
